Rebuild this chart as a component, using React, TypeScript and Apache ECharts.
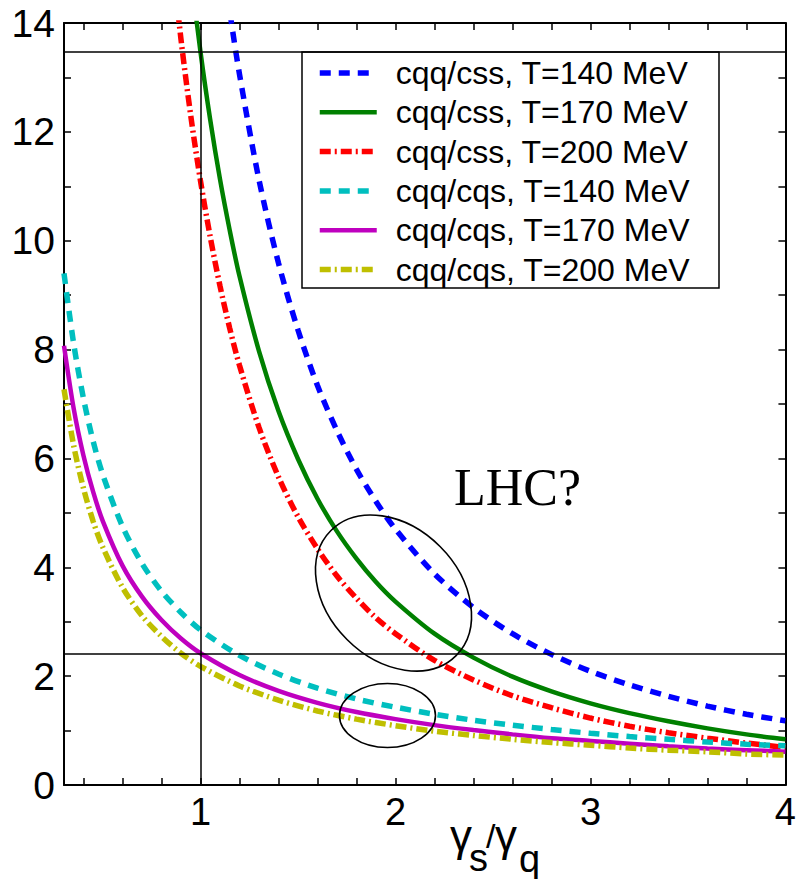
import React, { useEffect, useRef } from "react";
import * as echarts from "echarts";

// x grid of the cqq/css curves
const xCss = [0.85, 0.9, 0.95, 1.0, 1.05, 1.1, 1.15, 1.2, 1.3, 1.4, 1.5, 1.6, 1.7, 1.8, 1.9, 2.0, 2.2, 2.4, 2.6, 2.8, 3.0, 3.2, 3.4, 3.6, 3.8, 4.0];
const cssT140 = [26.0, 23.2, 20.8, 18.8, 17.05, 15.54, 14.22, 13.06, 11.12, 9.59, 8.36, 7.34, 6.51, 5.80, 5.21, 4.70, 3.88, 3.26, 2.78, 2.40, 2.09, 1.84, 1.63, 1.45, 1.30, 1.18];
const cssT170 = [18.64, 16.63, 14.93, 13.47, 12.22, 11.13, 10.19, 9.35, 7.97, 6.87, 5.99, 5.26, 4.66, 4.16, 3.73, 3.37, 2.78, 2.34, 1.99, 1.72, 1.50, 1.32, 1.17, 1.04, 0.93, 0.84];
const cssT200 = [15.36, 13.70, 12.30, 11.10, 10.07, 9.17, 8.39, 7.71, 6.57, 5.66, 4.93, 4.34, 3.84, 3.43, 3.07, 2.78, 2.29, 1.93, 1.64, 1.42, 1.23, 1.08, 0.96, 0.86, 0.77, 0.69];

// x grid of the cqq/cqs curves
const xCqs = [0.3, 0.35, 0.4, 0.45, 0.5, 0.6, 0.7, 0.8, 0.9, 1.0, 1.2, 1.4, 1.6, 1.8, 2.0, 2.2, 2.4, 2.6, 2.8, 3.0, 3.2, 3.4, 3.6, 3.8, 4.0];
const cqsT140 = [9.40, 8.10, 7.10, 6.31, 5.69, 4.75, 4.07, 3.56, 3.17, 2.85, 2.38, 2.04, 1.78, 1.58, 1.43, 1.30, 1.19, 1.10, 1.02, 0.95, 0.89, 0.84, 0.79, 0.75, 0.72];
const cqsT170 = [8.07, 6.91, 6.05, 5.38, 4.84, 4.03, 3.46, 3.03, 2.69, 2.42, 2.02, 1.73, 1.51, 1.34, 1.21, 1.10, 1.01, 0.93, 0.86, 0.81, 0.76, 0.71, 0.67, 0.64, 0.61];
const cqsT200 = [7.27, 6.23, 5.45, 4.84, 4.36, 3.63, 3.11, 2.73, 2.42, 2.18, 1.82, 1.56, 1.36, 1.21, 1.09, 0.99, 0.91, 0.84, 0.78, 0.73, 0.68, 0.64, 0.61, 0.57, 0.55];

const seriesNames = [
  "cqq/css, T=140 MeV",
  "cqq/css, T=170 MeV",
  "cqq/css, T=200 MeV",
  "cqq/cqs, T=140 MeV",
  "cqq/cqs, T=170 MeV",
  "cqq/cqs, T=200 MeV",
];

const xTickValues = [0.4, 0.6, 0.8, 1.0, 1.2, 1.4, 1.6, 1.8, 2.0, 2.2, 2.4, 2.6, 2.8, 3.0, 3.2, 3.4, 3.6, 3.8, 4.0];
const xLabelValues = [1, 2, 3, 4];
const yTickValues = [0, 1, 2, 3, 4, 5, 6, 7, 8, 9, 10, 11, 12, 13, 14];
const yLabelValues = [0, 2, 4, 6, 8, 10, 12, 14];

// reference lines
const hLines = [13.47, 2.42];
const vLines = [1];

// annotations (data coordinates)
const bigEllipseCenter = [1.99, 3.527];
const smallEllipseCenter = [1.959, 1.277];
const lhcPos = [2.3, 5.47];

const FONT = "'Liberation Sans', Arial, sans-serif";

export default function App() {
  const ref = useRef<HTMLDivElement>(null);

  useEffect(() => {
    const chart = echarts.init(ref.current!, null, { renderer: "svg" });

    const pairs = (xs: number[], ys: number[]) => xs.map((x, i) => [x, ys[i]]);

    const mkSeries = (name: string, xs: number[], ys: number[], color: string, width: number, type: any, extra: any = {}) => ({
      name,
      type: "line",
      data: pairs(xs, ys),
      smooth: 0.3,
      symbol: "none",
      showSymbol: false,
      clip: true,
      lineStyle: { color, width, type },
      itemStyle: { color },
      z: 3,
      ...extra,
    });

    const axisLine = { show: true, onZero: false, lineStyle: { color: "#000", width: 2 } };
    const tick = (vals: number[]) => ({ show: true, inside: true, length: 7, customValues: vals, lineStyle: { color: "#000", width: 1.5 } });

    const option: any = {
      animation: false,
      backgroundColor: "#fff",
      grid: { left: 64, right: 9, top: 23, bottom: 94, containLabel: false },
      xAxis: [
        {
          type: "value",
          min: 0.3,
          max: 4,
          position: "bottom",
          axisLine,
          axisTick: tick(xTickValues),
          axisLabel: { customValues: xLabelValues, fontSize: 38, fontFamily: FONT, color: "#000", margin: 8 },
          splitLine: { show: false },
        },
        {
          type: "value",
          min: 0.3,
          max: 4,
          position: "top",
          axisLine,
          axisTick: tick(xTickValues),
          axisLabel: { show: false },
          splitLine: { show: false },
        },
      ],
      yAxis: [
        {
          type: "value",
          min: 0,
          max: 14,
          position: "left",
          axisLine,
          axisTick: tick(yTickValues),
          axisLabel: { customValues: yLabelValues, fontSize: 39, fontFamily: FONT, color: "#000", margin: 9 },
          splitLine: { show: false },
        },
        {
          type: "value",
          min: 0,
          max: 14,
          position: "right",
          axisLine,
          axisTick: tick(yTickValues),
          axisLabel: { show: false },
          splitLine: { show: false },
        },
      ],
      legend: {
        orient: "vertical",
        left: 317,
        top: 57,
        padding: 0,
        itemWidth: 57,
        itemHeight: 12,
        itemGap: 7.3,
        data: seriesNames,
        itemStyle: { opacity: 0 },
        lineStyle: { width: "inherit", type: "inherit" },
        textStyle: { fontSize: 32, fontFamily: FONT, color: "#000", lineHeight: 31.5, padding: [0, 0, 0, 14] },
      },
      series: [
        mkSeries(seriesNames[0], xCss, cssT140, "#0000ff", 5.5, [11, 8], {
          markLine: {
            silent: true,
            symbol: ["none", "none"],
            label: { show: false },
            lineStyle: { color: "#000", width: 1.5, type: "solid" },
            data: [...hLines.map((v) => ({ yAxis: v })), ...vLines.map((v) => ({ xAxis: v }))],
          },
        }),
        mkSeries(seriesNames[1], xCss, cssT170, "#008000", 4.5, "solid"),
        mkSeries(seriesNames[2], xCss, cssT200, "#ff0000", 5.5, [11, 4, 2, 4]),
        mkSeries(seriesNames[3], xCqs, cqsT140, "#00bfbf", 5.5, [11, 8]),
        mkSeries(seriesNames[4], xCqs, cqsT170, "#bf00bf", 4.5, "solid"),
        mkSeries(seriesNames[5], xCqs, cqsT200, "#bfbf00", 5.5, [11, 4, 2, 4]),
      ],
    };

    chart.setOption(option);

    const big = chart.convertToPixel({ seriesIndex: 0 }, bigEllipseCenter) as number[];
    const small = chart.convertToPixel({ seriesIndex: 0 }, smallEllipseCenter) as number[];
    const lhc = chart.convertToPixel({ seriesIndex: 0 }, lhcPos) as number[];

    chart.setOption({
      graphic: [
        {
          type: "rect",
          z: 50,
          shape: { x: 302, y: 52, width: 417, height: 236 },
          style: { fill: "none", stroke: "#000", lineWidth: 1.5 },
          silent: true,
        },
        {
          type: "ellipse",
          z: 50,
          x: big[0],
          y: big[1],
          rotation: -Math.PI / 4,
          shape: { cx: 0, cy: 0, rx: 88.5, ry: 65.8 },
          style: { fill: "none", stroke: "#000", lineWidth: 1.6 },
          silent: true,
        },
        {
          type: "ellipse",
          z: 50,
          shape: { cx: small[0], cy: small[1], rx: 48, ry: 32 },
          style: { fill: "none", stroke: "#000", lineWidth: 1.6 },
          silent: true,
        },
        {
          type: "text",
          z: 50,
          x: lhc[0],
          y: lhc[1],
          style: { text: "LHC?", font: "52px 'Liberation Serif', 'Times New Roman', serif", fill: "#000", align: "left", verticalAlign: "middle" },
          silent: true,
        },
        {
          type: "text", z: 50, x: 450, y: 835,
          style: { text: "γ", font: `44px ${FONT}`, fill: "#000", align: "left", verticalAlign: "middle" },
        },
        {
          type: "text", z: 50, x: 469, y: 858,
          style: { text: "s", font: `38px ${FONT}`, fill: "#000", align: "left", verticalAlign: "middle" },
        },
        {
          type: "text", z: 50, x: 486, y: 836,
          style: { text: "/", font: `34px ${FONT}`, fill: "#000", align: "left", verticalAlign: "middle" },
        },
        {
          type: "text", z: 50, x: 495, y: 835,
          style: { text: "γ", font: `44px ${FONT}`, fill: "#000", align: "left", verticalAlign: "middle" },
        },
        {
          type: "text", z: 50, x: 519, y: 859,
          style: { text: "q", font: `38px ${FONT}`, fill: "#000", align: "left", verticalAlign: "middle" },
        },
      ],
    });

    return () => chart.dispose();
  }, []);

  return <div ref={ref} style={{ position: "absolute", left: 0, top: 0, width: 799, height: 879 }} />;
}
